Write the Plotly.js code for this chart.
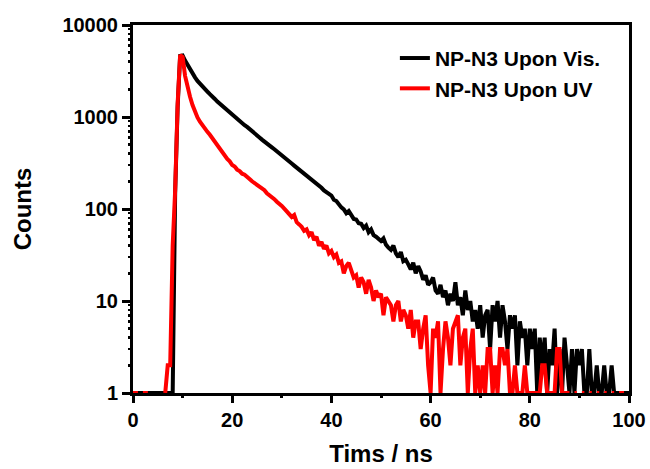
<!DOCTYPE html>
<html>
<head>
<meta charset="utf-8">
<script src="https://cdn.plot.ly/plotly-3.0.1.min.js"></script>
<style>
html,body{margin:0;padding:0;background:#fff;}
#chart{width:650px;height:469px;}
</style>
</head>
<body>
<div id="chart"></div>
<script>
// Time channels (ns): start and channel width of the decay histogram
const channelStart = 0;
const channelWidth = 0.5;

// Series names
const seriesNames = ["NP-N3 Upon Vis.", "NP-N3 Upon UV"];

// Counts per channel, NP-N3 upon visible light
const countsVis = [
  1,1,1,1,1,1,1,1,1,1,
  1,1,1,1,1,1,1,150,1300,4600,
  4650,4100,3650,3300,2980,2700,2470,2290,2160,1990,
  1890,1770,1640,1570,1470,1390,1340,1240,1200,1120,
  1080,1010,960,905,850,815,780,735,700,665,
  630,600,568,545,512,492,468,446,425,405,
  390,366,350,327,312,296,282,264,255,240,
  228,218,206,199,186,178,170,159,154,146,
  140,126,122,110,104,99,90,95,84,78,
  77,70,69,62,66,56,60,52,50,47,
  45,48,41,38,36,40,33,30,34,27,
  28,25,22,26,20,24,21,17,19,15,
  16,18,13,12,15,11,13,9,12,10,
  16,9,11,7,13,8,10,6,8,5,
  9,4,7,8,3,9,6,10,4,9,
  6,3,7,5,7,2,6,4,5,2,
  5,3,5,1,4,2,4,1,3,2,
  5,1,3,1,4,2,1,3,1,3,
  2,3,1,1,3,1,1,2,1,1,
  2,1,1,2,1,1,1,1,1,1,
  1
];

// Counts per channel, NP-N3 upon UV light (null = empty channel)
const countsUV = [
  1,1,1,null,1,1,1,null,null,null,
  null,null,null,1,2,2,40,160,1400,4700,
  4500,2800,2100,1660,1350,1120,990,890,810,745,
  690,640,585,540,490,455,415,385,350,330,
  300,290,268,258,242,236,220,212,200,192,
  185,176,166,160,148,142,135,128,120,115,
  108,101,94,88,82,86,72,68,64,58,
  60,52,56,46,50,40,44,37,40,33,
  35,30,32,26,27,20,24,26,21,18,
  19,14,18,16,12,17,14,10,13,11,
  12,7,11,10,9,6,9,10,6,8,
  7,5,8,4,6,6,3,5,7,2,
  1,5,4,6,1,3,6,4,2,5,
  6,7,2,4,5,1,3,5,1,2,
  1,2,1,3,3,1,2,1,3,3,
  2,3,1,1,2,1,1,1,2,1,
  1,1,1,1,1,2,2,1,1,1,
  1,3,3,1,1,1,1,null,1,1,
  null,1,1,null,1,1,null,1,1,null,
  1,1,null,1,1,null,1,1,1,null,
  1
];

// Tick labels
const xTickVals = [0, 20, 40, 60, 80, 100];
const xMinorVals = [10, 30, 50, 70, 90];
const yTickVals = [1, 10, 100, 1000, 10000];
const yTickText = ["1", "10", "100", "1000", "10000"];
const yMinorVals = [];
[1, 10, 100, 1000].forEach(d => { for (let k = 2; k <= 9; k++) yMinorVals.push(k * d); });

const times = countsVis.map((_, i) => channelStart + i * channelWidth);

const FONT = "Liberation Sans, Arial, Helvetica, sans-serif";

const traces = [
  {x: times, y: countsVis, name: seriesNames[0], type: "scatter", mode: "lines",
   line: {color: "#000000", width: 4}, connectgaps: false},
  {x: times, y: countsUV, name: seriesNames[1], type: "scatter", mode: "lines",
   line: {color: "#ff0000", width: 4}, connectgaps: false},
  // empty trace that only carries the minor-tick axes
  {x: [], y: [], xaxis: "x2", yaxis: "y2", type: "scatter", mode: "lines",
   showlegend: false, hoverinfo: "skip"}
];

const axisCommon = {
  showgrid: false, zeroline: false,
  showline: true, linecolor: "#000", linewidth: 3, mirror: true,
  ticks: "outside", tickcolor: "#000", tickwidth: 3,
  tickfont: {family: FONT, size: 20, color: "#000", weight: "bold"},
  layer: "below traces"
};

const minorCommon = {
  showgrid: false, zeroline: false, showline: false, showticklabels: false,
  ticks: "outside", tickcolor: "#000", tickmode: "array", layer: "below traces"
};

const layout = {
  width: 650, height: 469,
  margin: {l: 133, r: 21, t: 25, b: 76, pad: 0},
  paper_bgcolor: "#fff", plot_bgcolor: "#fff",
  showlegend: true,
  legend: {x: 0.528, y: 0.965, xanchor: "left", yanchor: "top",
           bgcolor: "rgba(0,0,0,0)",
           font: {family: FONT, size: 21, color: "#000", weight: "bold"}},
  xaxis: Object.assign({}, axisCommon, {
    range: [0, 100], tickmode: "array", tickvals: xTickVals, ticklen: 7,
    title: {text: "Tims / ns", font: {family: FONT, size: 24, color: "#000", weight: "bold"}, standoff: 16}
  }),
  yaxis: Object.assign({}, axisCommon, {
    type: "log", range: [0, 4], tickmode: "array", tickvals: yTickVals, ticktext: yTickText, ticklen: 8,
    title: {text: "Counts", font: {family: FONT, size: 24, color: "#000", weight: "bold"}, standoff: 24}
  }),
  xaxis2: Object.assign({}, minorCommon, {
    overlaying: "x", anchor: "y2", side: "bottom", range: [0, 100],
    tickvals: xMinorVals, ticklen: 4, tickwidth: 3
  }),
  yaxis2: Object.assign({}, minorCommon, {
    overlaying: "y", anchor: "x2", side: "left", type: "log", range: [0, 4],
    tickvals: yMinorVals, ticklen: 4, tickwidth: 2.5
  })
};

Plotly.newPlot("chart", traces, layout, {displayModeBar: false, staticPlot: true});
</script>
</body>
</html>
